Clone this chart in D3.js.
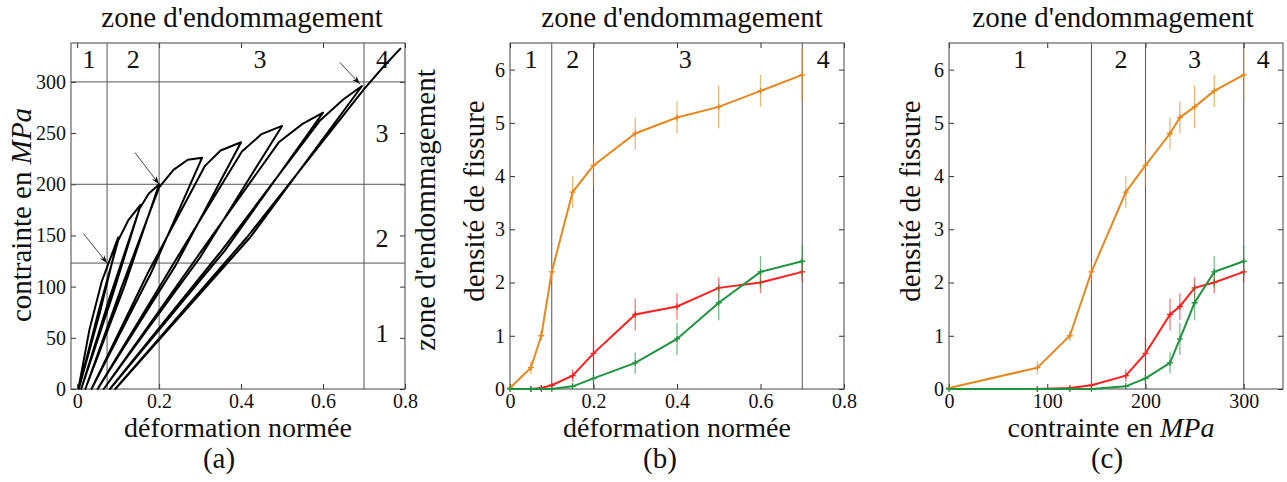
<!DOCTYPE html>
<html>
<head>
<meta charset="utf-8">
<script src="https://cdn.jsdelivr.net/npm/d3@7"></script>
<style>
  body { margin: 0; background: #fff; }
  svg { display: block; }
  text { font-family: "Liberation Serif", "Times New Roman", serif; fill: #111; }
</style>
</head>
<body>
<div id="chart"></div>
<script>
// ---- panel (a): cyclic stress / strain curve ----
const picDef     = [0.100, 0.155, 0.200, 0.305, 0.400, 0.500, 0.600, 0.695];
const picContr   = [148, 180, 200, 226, 241, 257, 270, 296];
const residDef   = [0.004, 0.010, 0.020, 0.035, 0.050, 0.065, 0.080, 0.093];
const dechMiDef  = [0.055, 0.085, 0.115, 0.180, 0.240, 0.300, 0.360, 0.422];
const rechMiDef  = [0.051, 0.080, 0.109, 0.172, 0.232, 0.292, 0.352, 0.414];
const repriseDef   = [0.100, 0.152, 0.200, 0.312, 0.402, 0.492, 0.592, 0.700];
const repriseContr = [145, 176, 197, 218, 232, 241, 262, 293];
const envDef   = [0.003, 0.030, 0.060, 0.125, 0.175, 0.235, 0.270, 0.350, 0.450, 0.550, 0.650, 0.750, 0.790];
const envContr = [0, 58, 105, 165, 191, 214, 224, 233, 249, 259, 283, 316, 333];

const flecheVers = [[0.073, 123], [0.200, 200], [0.690, 298]];
const flecheDe   = [[0.015, 152], [0.141, 231], [0.641, 319]];

// ---- panels (b) and (c): crack density ----
const deformation = [0, 0.05, 0.075, 0.1, 0.15, 0.2, 0.3, 0.4, 0.5, 0.6, 0.7];
const contrainte  = [0, 90, 123, 145, 180, 200, 225, 235, 250, 270, 300];
const densOrange = [0.02, 0.4, 1.0, 2.2, 3.7, 4.2, 4.8, 5.1, 5.3, 5.6, 5.9];
const errOrange  = [0, 0.12, 0.1, 0.15, 0.3, 0.4, 0.3, 0.3, 0.4, 0.3, 0.5];
const densRouge  = [null, 0, 0.02, 0.07, 0.25, 0.67, 1.4, 1.55, 1.9, 2.0, 2.2];
const errRouge   = [0, 0, 0, 0, 0.12, 0.33, 0.3, 0.25, 0.2, 0.2, 0.2];
const densVert   = [0, 0, 0, 0, 0.05, 0.2, 0.49, 0.94, 1.62, 2.2, 2.4];
const errVert    = [0, 0, 0, 0, 0, 0.1, 0.2, 0.3, 0.33, 0.3, 0.3];

const zonesA  = { x: [0.073, 0.2, 0.7], y: [123, 200, 300] };
const zonesB  = [0.1, 0.2, 0.7];
const zonesC  = [145, 200, 300];
const labelsZone = ["1", "2", "3", "4"];
const zonePosA = [0.029, 0.137, 0.446, 0.745];
const zonePosB = [0.05, 0.15, 0.42, 0.75];
const zonePosC = [72, 175, 250, 320];
const zoneDroiteA = [["1", 55], ["2", 148], ["3", 250]];

const COLORS = { orange: "#e8871e", rouge: "#ff2020", vert: "#1f9440" };

const W = 1287, H = 482;
const plotTop = 43, plotBottom = 389;

const svg = d3.select("#chart").append("svg")
  .attr("width", W).attr("height", H);
svg.append("rect").attr("width", W).attr("height", H).attr("fill", "#fff");

svg.append("defs").append("marker")
  .attr("id", "fl")
  .attr("viewBox", "0 0 10 10")
  .attr("refX", 10).attr("refY", 5)
  .attr("markerWidth", 9).attr("markerHeight", 9)
  .attr("orient", "auto")
  .append("path").attr("d", "M0,1.5 L10,5 L0,8.5 L3,5 Z").attr("fill", "#111");

const fmt1 = d => d === 0 ? "0" : d3.format(".1f")(d);

function frame(x, y, xTicks, yTicks, xFmt, yFmt) {
  const g = svg.append("g");
  const [l, r] = x.range();
  const styleAxis = sel => {
    sel.select(".domain").remove();
    sel.selectAll("line").attr("stroke", "#333");
    sel.attr("font-family", null).attr("font-size", null);
    sel.selectAll("text").attr("font-size", "20px");
  };
  g.append("g").attr("transform", "translate(0," + plotBottom + ")")
    .call(d3.axisBottom(x).tickValues(xTicks).tickSize(-5).tickPadding(5).tickFormat(xFmt))
    .call(styleAxis);
  g.append("g").attr("transform", "translate(0," + plotTop + ")")
    .call(d3.axisTop(x).tickValues(xTicks).tickSize(-5).tickFormat(""))
    .call(styleAxis);
  g.append("g").attr("transform", "translate(" + l + ",0)")
    .call(d3.axisLeft(y).tickValues(yTicks).tickSize(-5).tickPadding(5).tickFormat(yFmt))
    .call(styleAxis);
  g.append("g").attr("transform", "translate(" + r + ",0)")
    .call(d3.axisRight(y).tickValues(yTicks).tickSize(-5).tickFormat(""))
    .call(styleAxis);
  g.append("rect")
    .attr("x", l).attr("y", plotTop).attr("width", r - l).attr("height", plotBottom - plotTop)
    .attr("fill", "none").attr("stroke", "#444").attr("stroke-width", 1);
  return g;
}

function vLines(x, vals) {
  vals.forEach(v => {
    svg.append("line")
      .attr("x1", x(v)).attr("x2", x(v)).attr("y1", plotTop).attr("y2", plotBottom)
      .attr("stroke", "#555").attr("stroke-width", 1);
  });
}

function zoneLabels(x, pos) {
  pos.forEach((p, i) => {
    svg.append("text")
      .attr("x", x(p)).attr("y", 68)
      .attr("text-anchor", "middle")
      .attr("font-size", "26px")
      .text(labelsZone[i]);
  });
}

function title(cx, txt) {
  svg.append("text").attr("x", cx).attr("y", 27)
    .attr("text-anchor", "middle").attr("font-size", "29px")
    .text(txt);
}

function xLabel(cx, parts) {
  const t = svg.append("text").attr("x", cx).attr("y", 437)
    .attr("text-anchor", "middle").attr("font-size", "28px");
  parts.forEach(p => t.append("tspan").attr("font-style", p[1] ? "italic" : null).text(p[0]));
}

function yLabel(cx, cy, parts) {
  const t = svg.append("text")
    .attr("transform", "translate(" + cx + "," + cy + ") rotate(-90)")
    .attr("text-anchor", "middle").attr("dy", "0.35em").attr("font-size", "29px");
  parts.forEach(p => t.append("tspan").attr("font-style", p[1] ? "italic" : null).text(p[0]));
}

function panelTag(cx, txt) {
  svg.append("text").attr("x", cx).attr("y", 468)
    .attr("text-anchor", "middle").attr("font-size", "29px").text(txt);
}

// ================= (a) =================
const xA = d3.scaleLinear().domain([-0.015, 0.8]).range([71, 405]);
const yA = d3.scaleLinear().domain([0, 338]).range([plotBottom, plotTop]);

frame(xA, yA, [0, 0.2, 0.4, 0.6, 0.8], d3.range(0, 301, 50), fmt1, d3.format("d"));
vLines(xA, zonesA.x);
zonesA.y.forEach(v => {
  svg.append("line")
    .attr("x1", xA.range()[0]).attr("x2", xA.range()[1]).attr("y1", yA(v)).attr("y2", yA(v))
    .attr("stroke", "#555").attr("stroke-width", 1);
});
zoneLabels(xA, zonePosA);
zoneDroiteA.forEach(([t, v]) => {
  svg.append("text").attr("x", 382).attr("y", yA(v)).attr("dy", "0.35em")
    .attr("text-anchor", "middle").attr("font-size", "26px").text(t);
});

// build the loading path: envelope, then unload / reload at each peak
const pts = [];
let envIdx = 0;
picDef.forEach((p, i) => {
  while (envIdx < envDef.length && envDef[envIdx] < p) {
    pts.push([envDef[envIdx], envContr[envIdx]]);
    envIdx++;
  }
  pts.push([p, picContr[i]]);
  pts.push([dechMiDef[i], picContr[i] / 2]);
  pts.push([residDef[i], 0]);
  pts.push([rechMiDef[i], picContr[i] / 2]);
  pts.push([repriseDef[i], repriseContr[i]]);
});
while (envIdx < envDef.length) {
  pts.push([envDef[envIdx], envContr[envIdx]]);
  envIdx++;
}

svg.append("path")
  .datum(pts)
  .attr("fill", "none")
  .attr("stroke", "#000")
  .attr("stroke-width", 2)
  .attr("stroke-linejoin", "round")
  .attr("d", d3.line().x(d => xA(d[0])).y(d => yA(d[1])));

flecheVers.forEach((v, i) => {
  svg.append("line")
    .attr("x1", xA(flecheDe[i][0])).attr("y1", yA(flecheDe[i][1]))
    .attr("x2", xA(v[0])).attr("y2", yA(v[1]))
    .attr("stroke", "#333").attr("stroke-width", 0.9)
    .attr("marker-end", "url(#fl)");
});

title(242, "zone d'endommagement");
xLabel(238, [["déformation normée", false]]);
yLabel(21, 215, [["contrainte en ", false], ["MPa", true]]);
yLabel(425, 210, [["zone d'endommagement", false]]);
panelTag(219, "(a)");

// ================= (b) and (c) =================
function densPanel(x, xs, zones, zonePos, xTicks, xFmt) {
  const y = d3.scaleLinear().domain([0, 6.5]).range([plotBottom, plotTop]);
  frame(x, y, xTicks, d3.range(0, 7), xFmt, d3.format("d"));
  vLines(x, zones);
  zoneLabels(x, zonePos);

  const series = [
    { vals: densOrange, err: errOrange, color: COLORS.orange },
    { vals: densRouge,  err: errRouge,  color: COLORS.rouge },
    { vals: densVert,   err: errVert,   color: COLORS.vert }
  ];
  series.forEach(s => {
    const data = xs.map((v, i) => ({ x: v, y: s.vals[i], e: s.err[i] }))
      .filter(d => d.y !== null);
    data.filter(d => d.e > 0).forEach(d => {
      svg.append("line")
        .attr("x1", x(d.x)).attr("x2", x(d.x))
        .attr("y1", y(d.y - d.e)).attr("y2", y(d.y + d.e))
        .attr("stroke", s.color).attr("stroke-opacity", 0.6).attr("stroke-width", 1.3);
    });
    svg.append("path")
      .datum(data)
      .attr("fill", "none")
      .attr("stroke", s.color)
      .attr("stroke-width", 2)
      .attr("d", d3.line().x(d => x(d.x)).y(d => y(d.y)));
    data.forEach(d => {
      svg.append("path")
        .attr("d", "M" + (x(d.x) - 3) + "," + y(d.y) + "h6M" + x(d.x) + "," + (y(d.y) - 3) + "v6")
        .attr("stroke", s.color).attr("stroke-width", 1.3);
    });
  });
}

const xB = d3.scaleLinear().domain([0, 0.8]).range([510, 844]);
densPanel(xB, deformation, zonesB, zonePosB, [0, 0.2, 0.4, 0.6, 0.8], fmt1);
title(682, "zone d'endommagement");
xLabel(677, [["déformation normée", false]]);
yLabel(474, 201, [["densité de fissure", false]]);
panelTag(660, "(b)");

const xC = d3.scaleLinear().domain([0, 340]).range([949, 1283]);
densPanel(xC, contrainte, zonesC, zonePosC, [0, 100, 200, 300], d3.format("d"));
title(1113, "zone d'endommagement");
xLabel(1111, [["contrainte en ", false], ["MPa", true]]);
yLabel(910, 201, [["densité de fissure", false]]);
panelTag(1107, "(c)");
</script>
</body>
</html>
